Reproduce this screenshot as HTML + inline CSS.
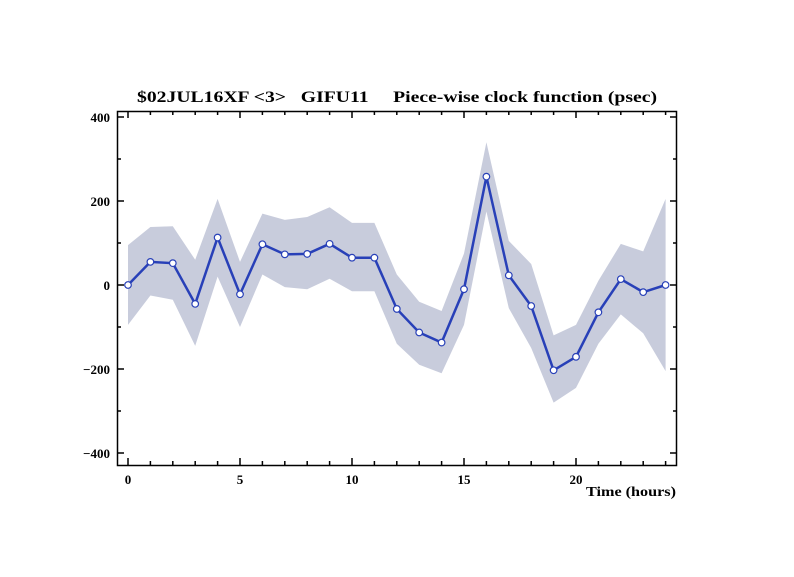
<!DOCTYPE html>
<html><head><meta charset="utf-8"><style>body{margin:0;background:#fff}svg{display:block}text{white-space:pre}</style></head><body>
<svg id="s" width="794" height="577" xmlns="http://www.w3.org/2000/svg" font-family="Liberation Serif, serif" font-weight="bold">
<rect width="794" height="577" fill="#fff"/>
<g id="g"></g>
<rect x="117.5" y="111.5" width="559" height="354" fill="none" stroke="#000" stroke-width="1.5"/>
<text x="137" y="102" font-size="16" textLength="520" lengthAdjust="spacingAndGlyphs" xml:space="preserve">$02JUL16XF &lt;3&gt;   GIFU11     Piece-wise clock function (psec)</text>
<g font-size="13" text-anchor="end">
<text x="110" y="122">400</text><text x="110" y="206">200</text><text x="110" y="290">0</text><text x="110" y="374">−200</text><text x="110" y="458">−400</text>
</g>
<g font-size="13" text-anchor="middle">
<text x="128" y="484">0</text><text x="240" y="484">5</text><text x="352" y="484">10</text><text x="464" y="484">15</text><text x="576" y="484">20</text>
</g>
<text x="586" y="496" font-size="14" textLength="90" lengthAdjust="spacingAndGlyphs">Time (hours)</text>
</svg>
<script>
const v=[0,55,52,-45,113,-22,97,73,74,98,65,65,-57,-113,-137,-10,258,23,-50,-203,-171,-65,14,-17,0];
const up=[95,138,140,60,205,55,170,155,162,185,148,148,25,-40,-62,75,340,105,50,-120,-95,10,98,80,205];
const lo=[-95,-25,-35,-145,20,-100,25,-5,-10,15,-15,-15,-140,-190,-210,-95,175,-55,-150,-280,-245,-140,-70,-115,-205];
const X=i=>128+22.4*i, Y=d=>285-0.42*d;
let h='';
let p=up.map((d,i)=>X(i)+','+Y(d)).join(' ')+' '+lo.map((d,i)=>X(i)+','+Y(d)).reverse().join(' ');
h+=`<polygon points="${p}" fill="#c8ccdc"/>`;
h+=`<polyline points="${v.map((d,i)=>X(i)+','+Y(d)).join(' ')}" fill="none" stroke="#2840b8" stroke-width="2.5"/>`;
v.forEach((d,i)=>h+=`<circle cx="${X(i)}" cy="${Y(d)}" r="3.3" fill="#fff" stroke="#2840b8" stroke-width="1.2"/>`);
for(let i=0;i<=24;i++){const L=i%5?4:7;h+=`<line x1="${X(i)}" y1="465" x2="${X(i)}" y2="${465-L}" stroke="#000" stroke-width="1.5"/><line x1="${X(i)}" y1="111" x2="${X(i)}" y2="${111+L}" stroke="#000" stroke-width="1.5"/>`;}
for(let d=-400;d<=400;d+=100){const L=d%200?4:7;h+=`<line x1="117" y1="${Y(d)}" x2="${117+L}" y2="${Y(d)}" stroke="#000" stroke-width="1.5"/><line x1="677" y1="${Y(d)}" x2="${677-L}" y2="${Y(d)}" stroke="#000" stroke-width="1.5"/>`;}
document.getElementById('g').innerHTML=h;
</script>
</body></html>
